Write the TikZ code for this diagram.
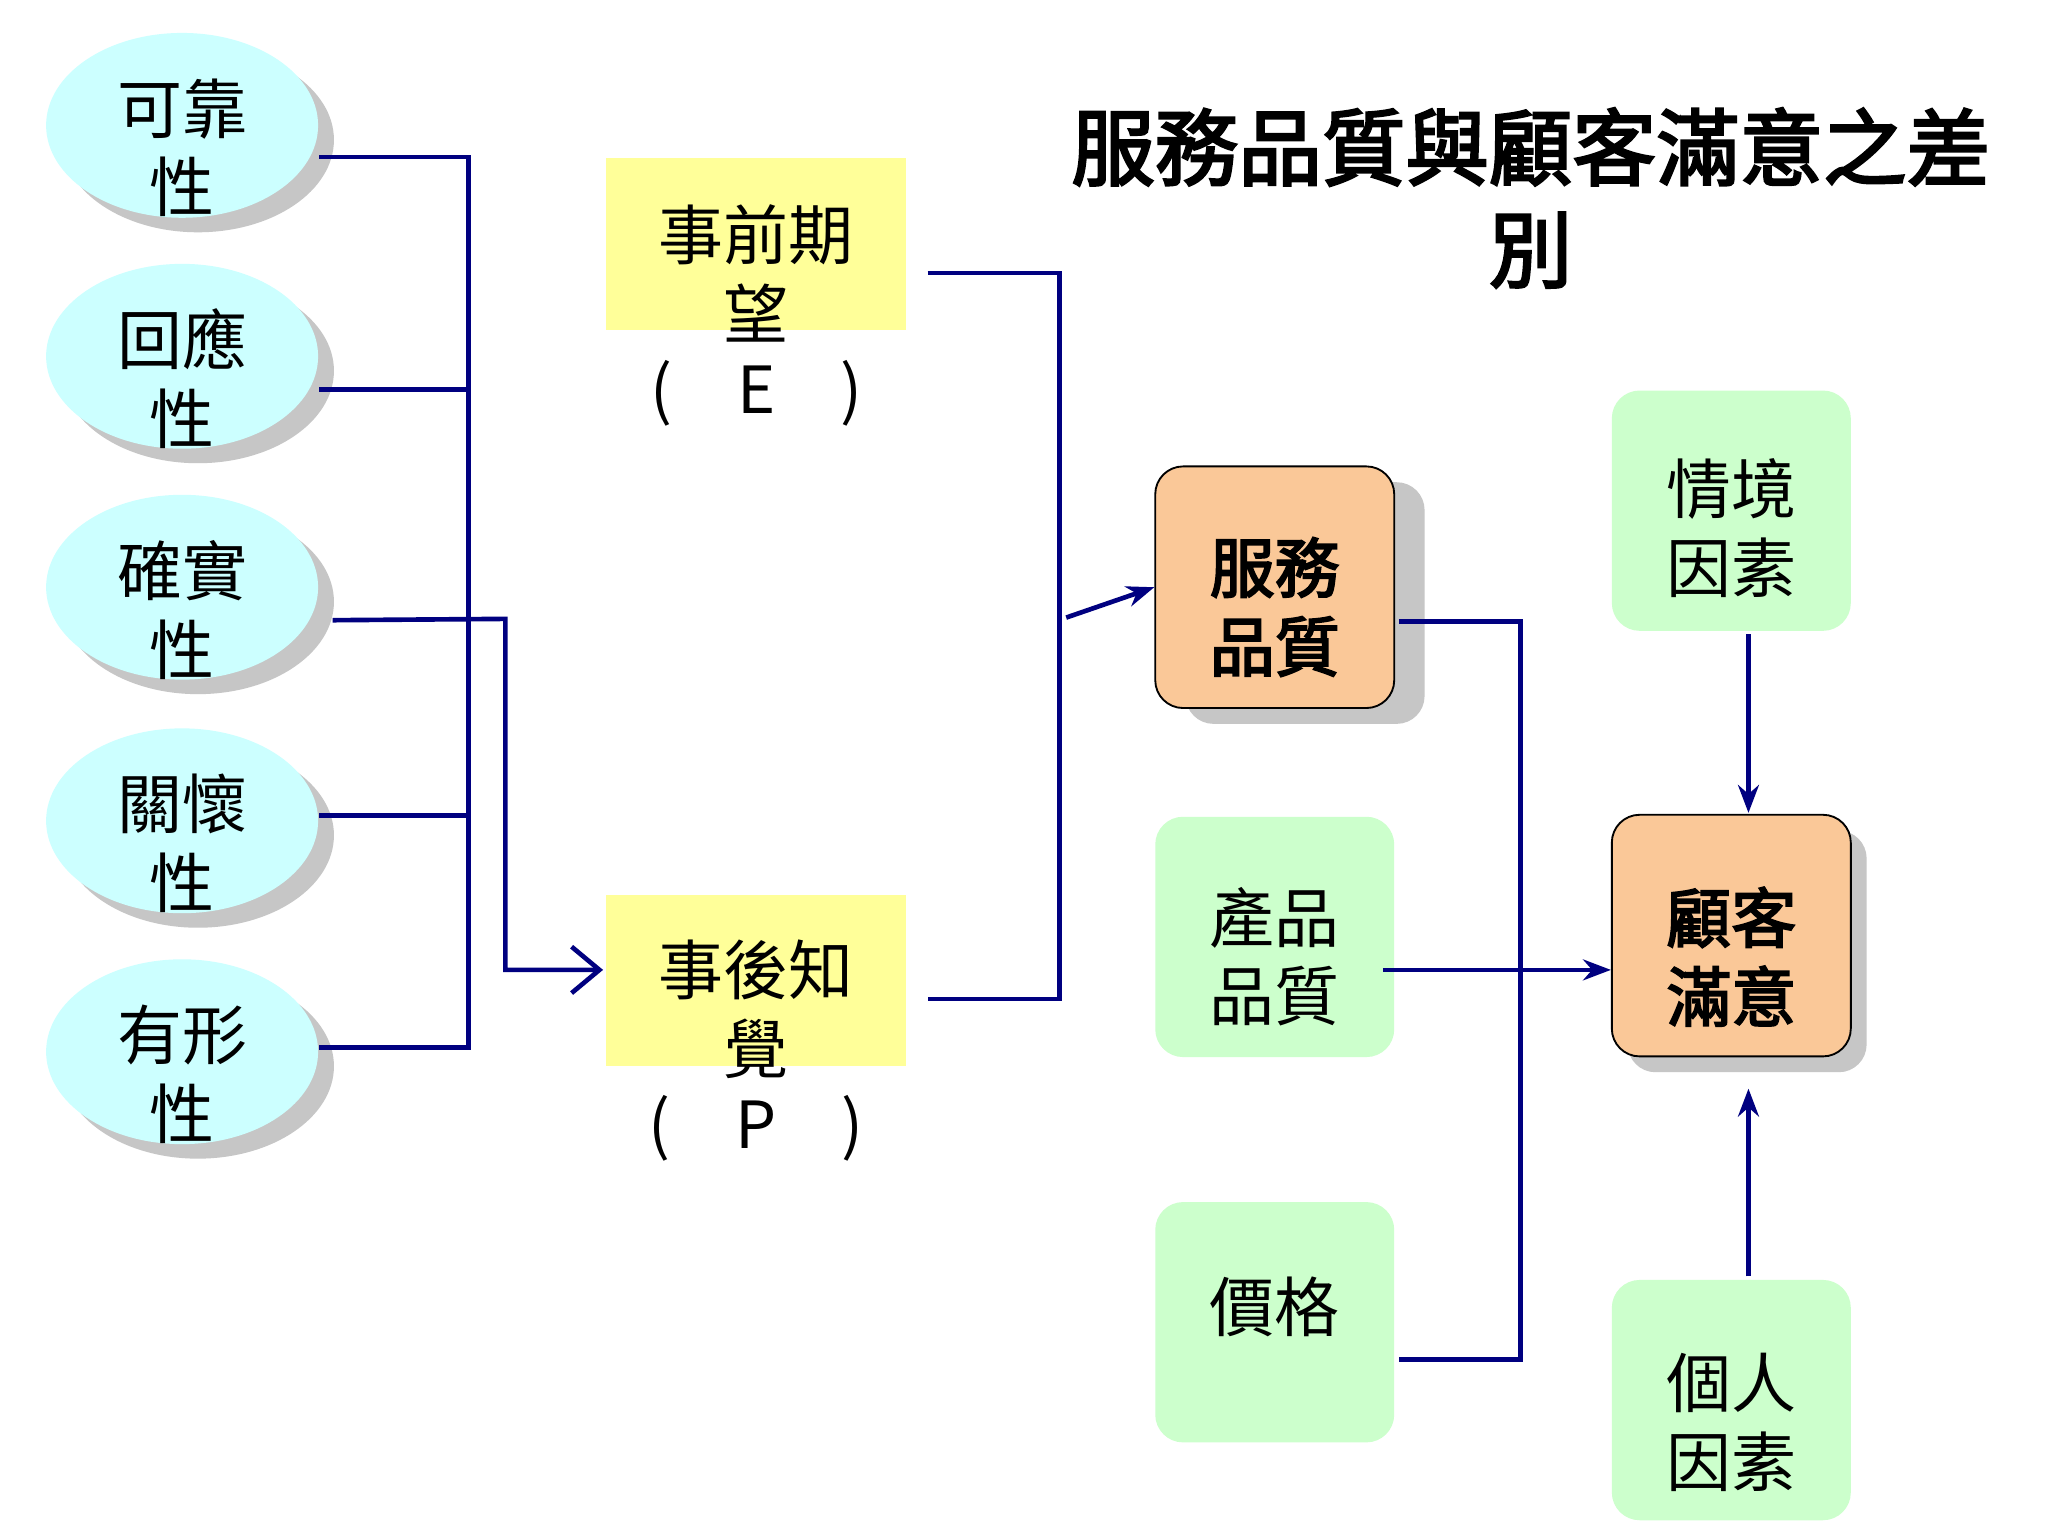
\documentclass[tikz,border=0pt]{standalone}
\usepackage{fontspec}
\setmainfont{Liberation Sans}
\newfontfamily\cjk{Noto Sans CJK TC}
\newfontfamily\cjkb{Noto Sans CJK TC}[FakeBold=3]
\usetikzlibrary{shapes.geometric,arrows.meta}
\definecolor{lnav}{RGB}{0,0,128}
\definecolor{ecyan}{RGB}{204,255,255}
\definecolor{byel}{RGB}{255,255,153}
\definecolor{bgrn}{RGB}{204,255,204}
\definecolor{borg}{RGB}{250,200,152}
\tikzset{
  txt/.style={font=\cjk\fontsize{14}{17}\selectfont,align=center},
  oval/.style={ellipse,fill=ecyan,minimum width=2.06cm,minimum height=1.4cm,inner sep=0pt},
  ovsh/.style={ellipse,fill=gray!45,minimum width=2.06cm,minimum height=1.4cm},
  ybox/.style={fill=byel,minimum width=2.27cm,minimum height=1.3cm,inner sep=0pt},
  gbox/.style={fill=bgrn,rounded corners=6pt,minimum width=1.81cm,minimum height=1.82cm,inner sep=0pt},
  obox/.style={fill=borg,draw=black,rounded corners=6pt,minimum width=1.81cm,minimum height=1.83cm,inner sep=0pt},
  shd/.style={fill=gray!45,rounded corners=6pt,minimum width=1.81cm,minimum height=1.83cm},
  ln/.style={draw=lnav,line width=1pt},
  arr/.style={ln,-{Stealth[length=6pt]}}
}
\begin{document}
\begin{tikzpicture}[x=0.01cm,y=-0.01cm]
\useasboundingbox[fill=white] (0,0) rectangle (1552,1164);
% ovals
\foreach \n/\y/\t in {a/95/可靠,b/270/回應,c/445/確實,d/622/關懷,e/797/有形}{
  \node[ovsh] at (150,106+\y-95) {};
  \node[oval] (\n) at (138,\y) {};
  \node[txt] at (138,\y+17) {\t\\性};
}
% left connectors
\draw[ln] (a.east|-0,119) -- (355,119) -- (355,794) -- (e.east|-0,794);
\draw[ln] (b.east|-0,295) -- (355,295);
\draw[ln] (d.east|-0,618) -- (355,618);
\coordinate (c1) at (252,470);
\node[ybox] (p) at (573,743) {};
\draw[ln,-{Straight Barb[length=6pt,width=10pt]}] (c1) -- (383,469) -- (383,735) -- (457,735);
\node[txt] at (573,765) {事後知\\覺};
\node[txt] at (573,855) {(\quad P\quad )};
\node[ybox] (ex) at (573,185) {};
\node[txt] at (573,207) {事前期\\望};
\node[txt] at (573,298) {(\quad E\quad )};
% service quality
\node[shd] at (989,457) {};
\node[obox] (sq) at (966,445) {};
\node[font=\cjkb\fontsize{14}{17}\selectfont,align=center] at (966,460) {服務\\品質};
\draw[ln] (703,207) -- (803,207) -- (803,757) -- (703,757);
\draw[arr] (808,468) -- (sq.west);
% green boxes
\node[gbox] (pq) at (966,710) {};
\node[txt] at (966,725) {產品\\品質};
\node[gbox] (pr) at (966,1002) {};
\node[txt] at (966,990) {價格};
\node[gbox] (si) at (1312,387) {};
\node[txt] at (1312,400) {情境\\因素};
\node[gbox] (pf) at (1312,1061) {};
\node[txt] at (1312,1078) {個人\\因素};
% customer satisfaction
\node[shd] at (1324,721) {};
\node[obox] (cs) at (1312,709) {};
\node[font=\cjkb\fontsize{14}{17}\selectfont,align=center] at (1312,725) {顧客\\滿意};
\draw[ln] (1060,471) -- (1152,471) -- (1152,1030) -- (1060,1030);
\draw[arr] (1048,735) -- (cs.west|-0,735);
\draw[arr] (si.south) ++(13,2) -- (1325,616);
\draw[arr] (pf.north) ++(13,-2) -- (1325,825);
% title
\node[font=\cjkb\fontsize{18}{22}\selectfont,align=center] (title) at (1160,150) {服務品質與顧客滿意之差\\別};
\end{tikzpicture}
\end{document}
